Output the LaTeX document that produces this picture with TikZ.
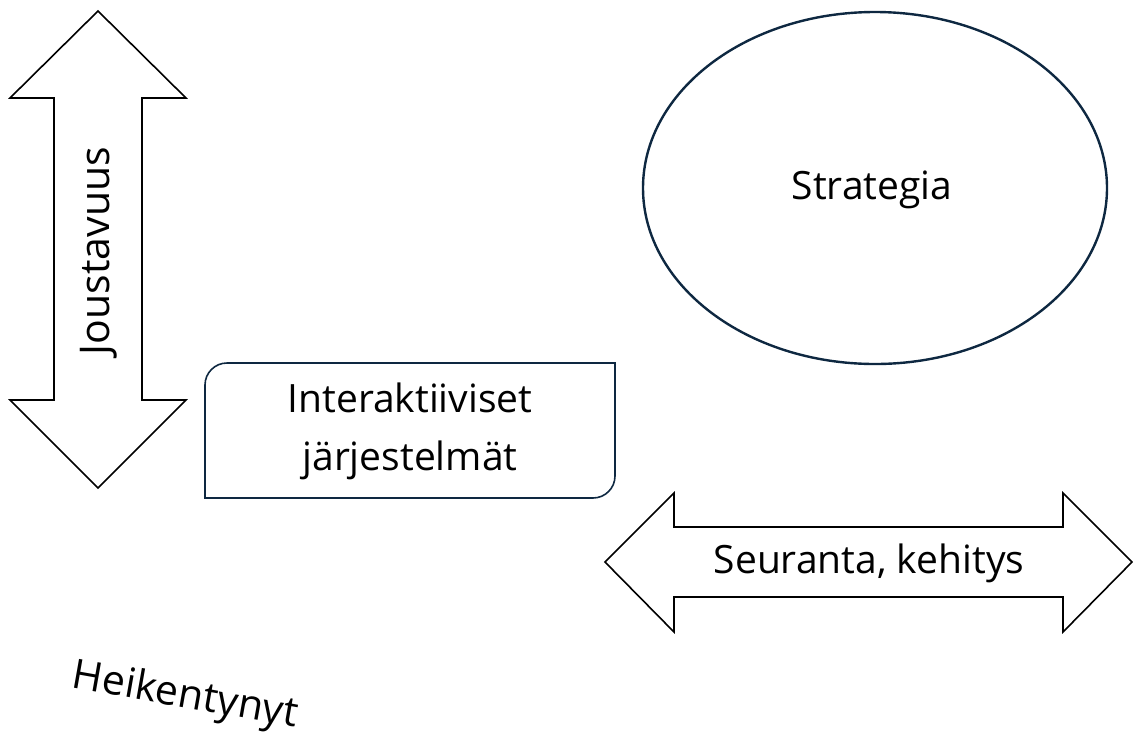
\documentclass[tikz,border=0pt]{standalone}
\usepackage{fontspec}
\setmainfont{Open Sans}
\definecolor{navy}{HTML}{0E2841}
\begin{document}
\begin{tikzpicture}[x=1pt,y=-1pt,
  shapeline/.style={draw=black,line width=1.6pt,line join=miter},
  lbl/.style={font=\fontsize{39}{58}\selectfont,inner sep=0pt,align=center},
  biglbl/.style={font=\fontsize{41}{50}\selectfont,inner sep=0pt}]
\useasboundingbox (0,0) rectangle (1133,740);
% vertical double arrow
\draw[shapeline] (98,11) -- (186,98) -- (142,98) -- (142,400) -- (186,400) -- (98,488)
  -- (10,400) -- (54,400) -- (54,98) -- (10,98) -- cycle;
\node[biglbl,rotate=90] (joust) at (99,251) {Joustavuus};
% ellipse
\draw[navy,line width=2.4pt] (875,188) ellipse [x radius=232,y radius=176];
\node[lbl] (strat) at (872,190) {Strategia};
% rounded rectangle
\draw[navy,line width=1.6pt] (205,498) -- (205,385) arc[start angle=180,end angle=270,radius=22]
  -- (615,363) -- (615,476) arc[start angle=0,end angle=90,radius=22] -- cycle;
\node[lbl] (inter) at (410,431) {Interaktiiviset\\järjestelmät};
% horizontal double arrow
\draw[shapeline] (605,562) -- (674,493) -- (674,527) -- (1063,527) -- (1063,493) -- (1132,562)
  -- (1063,632) -- (1063,597) -- (674,597) -- (674,632) -- cycle;
\node[lbl] (seur) at (869,563) {Seuranta, kehitys};
% rotated text
\node[biglbl,rotate=-10] (heik) at (185,697) {Heikentynyt};
\end{tikzpicture}
\end{document}
